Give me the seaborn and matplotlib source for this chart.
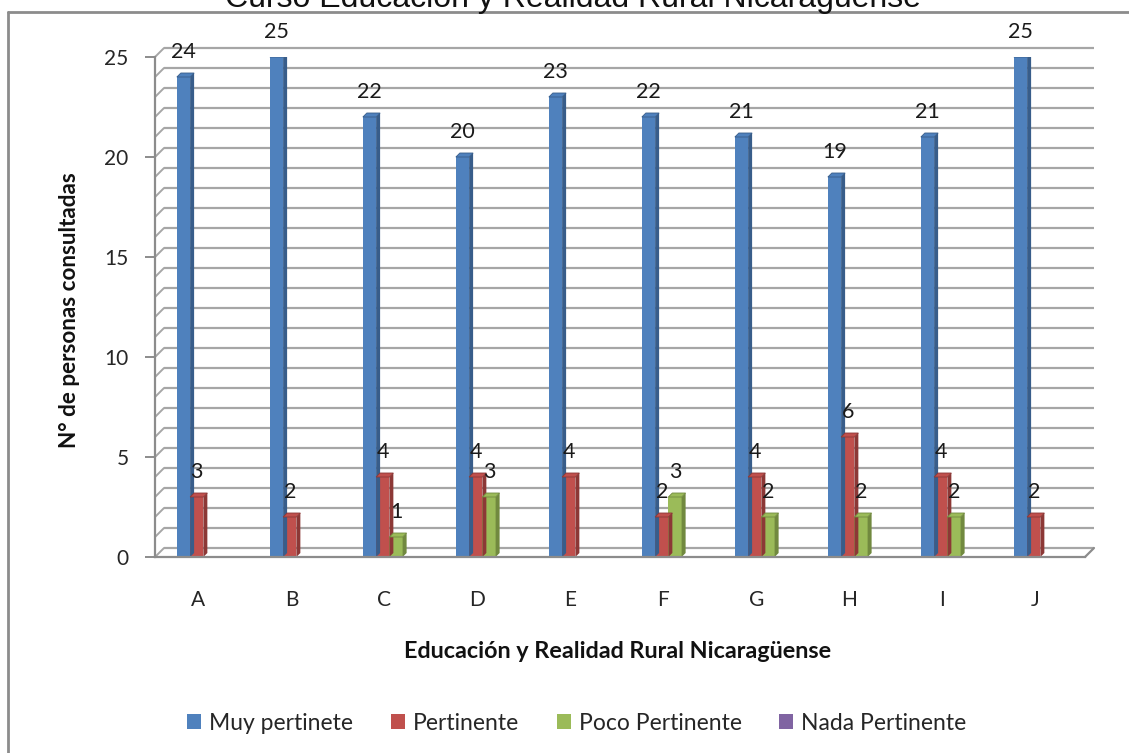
import numpy as np
import pandas as pd
import matplotlib
matplotlib.use("Agg")
import matplotlib.pyplot as plt
from matplotlib.lines import Line2D
from matplotlib.patches import Polygon, Patch
from matplotlib.transforms import ScaledTranslation
import seaborn as sns

# ---- data ----
cursos = ["A", "B", "C", "D", "E", "F", "G", "H", "I", "J"]
niveles = ["Muy pertinete", "Pertinente", "Poco Pertinente", "Nada Pertinente"]
muy_pertinente = [24, 25, 22, 20, 23, 22, 21, 19, 21, 25]
pertinente = [3, 2, 4, 4, 4, 2, 4, 6, 4, 2]
poco_pertinente = [0, 0, 1, 3, 0, 3, 2, 2, 2, 0]
nada_pertinente = [0, 0, 0, 0, 0, 0, 0, 0, 0, 0]
yticks = [0, 5, 10, 15, 20, 25]

titulo = "Curso Educación y Realidad Rural Nicaragüense"
etiqueta_x = "Educación y Realidad Rural Nicaragüense"
etiqueta_y = "N° de personas consultadas"

colores = ["#4F81BD", "#C0504D", "#9BBB59", "#8064A2"]
oscuros = ["#385D8A", "#8C3836", "#71893F", "#5C4776"]

df = pd.DataFrame({
    "Curso": cursos * 4,
    "Nivel": np.repeat(niveles, len(cursos)),
    "Personas": muy_pertinente + pertinente + poco_pertinente + nada_pertinente,
})

sns.set_style("white")
plt.rcParams["font.family"] = ["Lato", "DejaVu Sans"]

W, H = 1129, 753
fig = plt.figure(figsize=(W / 100, H / 100), dpi=100)
ax = fig.add_axes([155 / W, 1 - 557 / H, (1085 - 155) / W, 500 / H])

sns.barplot(data=df, x="Curso", y="Personas", hue="Nivel", hue_order=niveles,
            palette=colores, width=0.57, saturation=1, ax=ax, legend=False,
            linewidth=0, errorbar=None)

ax.set_xlim(-0.52, 9.48)
ax.set_ylim(0, 25)
ax.set_yticks(yticks)

# pixel scale of the data units, for the 3-D depth effect
o = ax.transData.transform((0, 0))
px_x = ax.transData.transform((1, 0))[0] - o[0]
px_y = ax.transData.transform((0, 1))[1] - o[1]

wall_dx, wall_dy = 9 / px_x, 9 / px_y
x0, x1 = ax.get_xlim()
grid_c = "#A6A6A6"

# back wall grid lines and the slanted left wall
for v in range(0, 26):
    ax.plot([x0 + wall_dx, x1 + wall_dx], [v + wall_dy, v + wall_dy],
            color=grid_c, lw=1.6, zorder=0.5, clip_on=False, solid_capstyle="butt")
    ax.plot([x0, x0 + wall_dx], [v, v + wall_dy],
            color=grid_c, lw=1.4, zorder=0.5, clip_on=False)
# floor edge on the right
ax.plot([x1, x1 + wall_dx], [0, wall_dy], color="#8C8C8C", lw=1.6, clip_on=False)

# 3-D side and top faces of the bars, plus value labels
bar_dx, bar_dy = 4 / px_x, 4 / px_y
n = len(cursos)
for i, bar in enumerate(ax.patches):
    h = bar.get_height()
    if h <= 0:
        continue
    k = i // n
    bx0 = bar.get_x()
    bx1 = bx0 + bar.get_width()
    side = Polygon([(bx1, 0), (bx1, h), (bx1 + bar_dx, h + bar_dy), (bx1 + bar_dx, bar_dy)],
                   closed=True, facecolor=oscuros[k], edgecolor="none", zorder=bar.get_zorder())
    top = Polygon([(bx0, h), (bx1, h), (bx1 + bar_dx, h + bar_dy), (bx0 + bar_dx, h + bar_dy)],
                  closed=True, facecolor=colores[k], edgecolor=oscuros[k], lw=0.6,
                  zorder=bar.get_zorder())
    ax.add_patch(side)
    ax.add_patch(top)
    ax.annotate(f"{h:g}", (bx0 + bar.get_width() / 2, h), xytext=(0, 11),
                textcoords="offset points", ha="center", va="bottom",
                fontsize=15.5, color="#1a1a1a", annotation_clip=False)

# axes styling
for s in ["top", "right"]:
    ax.spines[s].set_visible(False)
for s in ["left", "bottom"]:
    ax.spines[s].set_color("#8C8C8C")
    ax.spines[s].set_linewidth(1.6)
ax.tick_params(axis="y", length=7, width=1.4, color="#8C8C8C", pad=12,
               labelsize=15, labelcolor="#262626", left=True)
ax.tick_params(axis="x", length=0, pad=24, labelsize=15, labelcolor="#262626")
for lab in ax.get_xticklabels():
    lab.set_transform(lab.get_transform() + ScaledTranslation(-5 / 100, 0, fig.dpi_scale_trans))

ax.set_xlabel("")
ax.set_ylabel("")
fig.text(618 / W, 1 - 651 / H, etiqueta_x, ha="center", va="center",
         fontsize=16.8, fontweight="bold", color="#111111")
fig.text(70 / W, 1 - 310 / H, etiqueta_y, ha="center", va="center", rotation=90,
         fontsize=16.2, fontweight="bold", color="#111111")

# title, partly above the frame
fig.text(573 / W, 1 - 7 / H, titulo, ha="center", va="baseline",
         fontsize=23, family=["Liberation Sans", "DejaVu Sans"], color="#111111")

# frame lines
fig.add_artist(Line2D([8 / W, 8 / W], [0, 1 - 12 / H], color="#8C8C8C", lw=2,
                      transform=fig.transFigure))
fig.add_artist(Line2D([8 / W, 1], [1 - 12 / H, 1 - 12 / H], color="#8C8C8C", lw=2,
                      transform=fig.transFigure))

# legend
handles = [Patch(facecolor=c, edgecolor="none") for c in colores]
fig.legend(handles, niveles, loc="center", bbox_to_anchor=(577 / W, 1 - 723 / H),
           ncol=4, frameon=False, fontsize=16.5, handlelength=0.6, handleheight=0.6,
           handletextpad=0.35, columnspacing=1.65)

fig.savefig("out.png", dpi=100)
